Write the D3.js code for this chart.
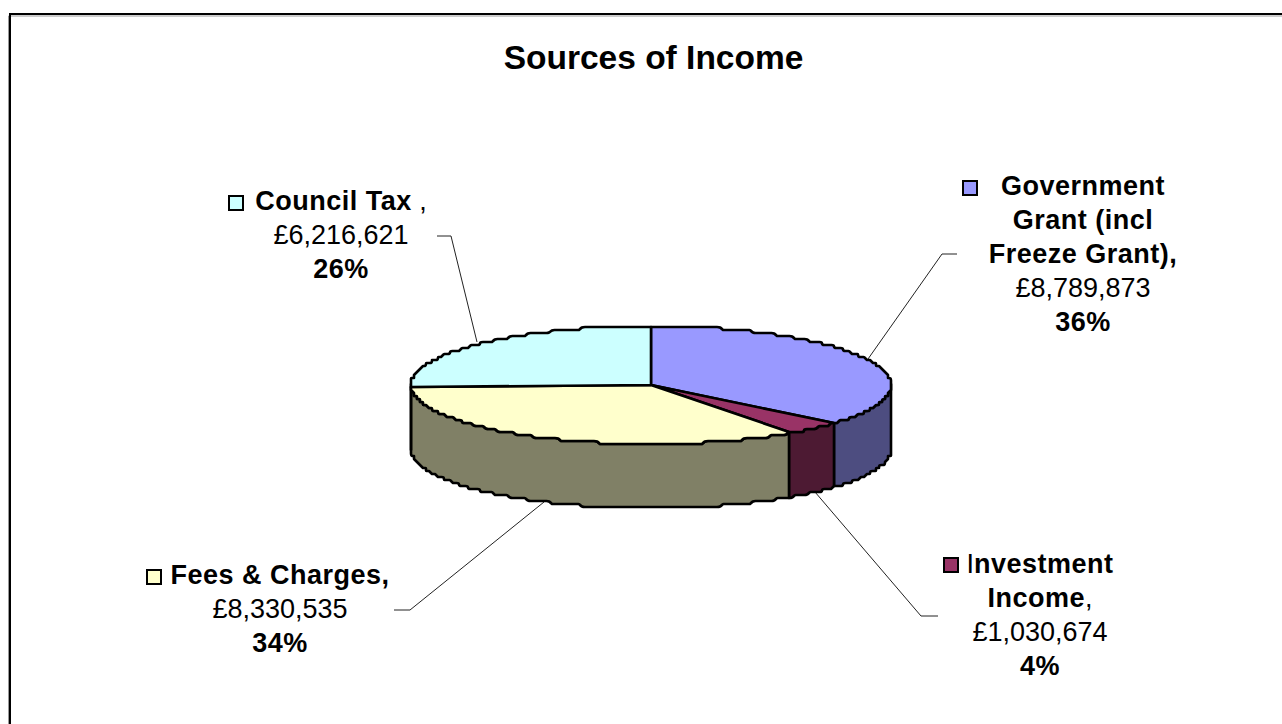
<!DOCTYPE html>
<html>
<head>
<meta charset="utf-8">
<script src="https://cdn.jsdelivr.net/npm/d3@7"></script>
<style>
  html, body { margin: 0; padding: 0; background: #fff; overflow: hidden; }
  text { font-family: "Liberation Sans", Arial, sans-serif; fill: #000; white-space: pre; }
</style>
</head>
<body>
<script>
var categories = ["Government Grant (incl Freeze Grant)", "Investment Income", "Fees & Charges", "Council Tax"];
var values = [8789873, 1030674, 8330535, 6216621];
var topColors = ["#9999ff", "#993366", "#ffffcc", "#ccffff"];
var sideColors = ["#4d4d80", "#4d1a33", "#808066", "#668080"];
var amountLabels = ["£8,789,873", "£1,030,674", "£8,330,535", "£6,216,621"];
var percentLabels = ["36%", "4%", "34%", "26%"];
var chartTitle = "Sources of Income";

var width = 1282, height = 724;
var svg = d3.select("body").append("svg").attr("width", width).attr("height", height).style("display", "block");

// frame: the reference only shows the top and left edges
svg.append("path").attr("d", "M8.5,724V16H1282").attr("fill", "none").attr("stroke", "#999").attr("stroke-width", 1);
svg.append("path").attr("d", "M10,724V14H1282").attr("fill", "none").attr("stroke", "#000").attr("stroke-width", 2);

svg.append("text").attr("x", 653.5).attr("y", 69).attr("text-anchor", "middle")
  .attr("font-size", 33.5).attr("font-weight", "bold").text(chartTitle);

// unit circle to the tilted ellipse of the 3d pie
var sx = d3.scaleLinear().domain([-1, 1]).range([411, 891]);
var sy = d3.scaleLinear().domain([-1, 1]).range([326, 444]);
var depth = 64;
var slices = d3.pie().sort(null).startAngle(0).endAngle(2 * Math.PI)(values);

// snap to a coarse grid then smooth, the original outline wobbles a little
var snap = 3;
function pt(a, dy) {
  return [Math.round(sx(Math.sin(a)) / snap) * snap, Math.round((sy(-Math.cos(a)) + (dy || 0)) / snap) * snap];
}
function arcPts(a0, a1, dy) {
  var n = Math.max(2, Math.ceil((a1 - a0) / 0.01));
  return d3.range(n + 1).map(function(i) { return pt(a0 + (a1 - a0) * i / n, dy); });
}
var line = d3.line();
var wobble = d3.line().curve(d3.curveBasis);

// leader lines go under the pie
var leaders = [
  [[868, 359], [942, 254], [957, 254]],
  [[815, 492], [921, 616], [938, 616]],
  [[544, 502], [410, 610], [394, 610]],
  [[477, 342], [451, 236], [437, 236]]
];
leaders.forEach(function(p) {
  svg.append("path").attr("d", line(p)).attr("fill", "none").attr("stroke", "#222").attr("stroke-width", 1);
});

// side wall, only the front half (PI/2 .. 3PI/2) can be seen
slices.forEach(function(d, i) {
  var a0 = Math.max(d.startAngle, Math.PI / 2), a1 = Math.min(d.endAngle, 1.5 * Math.PI);
  if (a1 <= a0) return;
  var path = wobble(arcPts(a0, a1, 0)) + wobble(arcPts(a0, a1, depth).reverse()).replace("M", "L") + "Z";
  svg.append("path").attr("d", path)
    .attr("fill", sideColors[i]).attr("stroke", "#000").attr("stroke-width", 2.6).attr("stroke-linejoin", "round");
});

// top faces
slices.forEach(function(d, i) {
  var path = "M" + sx(0) + "," + sy(0) + wobble(arcPts(d.startAngle, d.endAngle, 0)).replace("M", "L") + "Z";
  svg.append("path").attr("d", path)
    .attr("fill", topColors[i]).attr("stroke", "#000").attr("stroke-width", 2.6).attr("stroke-linejoin", "round");
});

// labels, every line is a list of [text, weight] runs
var labelBlocks = [
  { key: 0, cx: 1083, y: 195, box: [963, 181], lines: [
    [["Government", "bold"]], [["Grant (incl", "bold"]], [["Freeze Grant),", "bold"]],
    [[amountLabels[0], "normal"]], [[percentLabels[0], "bold"]]] },
  { key: 1, cx: 1040, y: 573, box: [944, 558], lines: [
    [["I", "normal"], ["nvestment", "bold"]], [["Income", "bold"], [",", "normal"]],
    [[amountLabels[1], "normal"]], [[percentLabels[1], "bold"]]] },
  { key: 2, cx: 280, y: 584, box: [147, 570], lines: [
    [["Fees & Charges,", "bold"]], [[amountLabels[2], "normal"]], [[percentLabels[2], "bold"]]] },
  { key: 3, cx: 341, y: 210, box: [229, 196], lines: [
    [["Council Tax", "bold"], [" ,", "normal"]], [[amountLabels[3], "normal"]], [[percentLabels[3], "bold"]]] }
];
var lineGap = 34;
labelBlocks.forEach(function(b) {
  b.lines.forEach(function(runs, i) {
    var t = svg.append("text").attr("x", b.cx).attr("y", b.y + i * lineGap).attr("text-anchor", "middle")
      .attr("font-size", 27);
    runs.forEach(function(r) {
      t.append("tspan").attr("font-weight", r[1]).attr("letter-spacing", r[1] == "bold" ? 0.5 : 0).text(r[0]);
    });
  });
  svg.append("rect").attr("x", b.box[0]).attr("y", b.box[1]).attr("width", 14).attr("height", 14)
    .attr("fill", topColors[b.key]).attr("stroke", "#000").attr("stroke-width", 2);
});
</script>
</body>
</html>
